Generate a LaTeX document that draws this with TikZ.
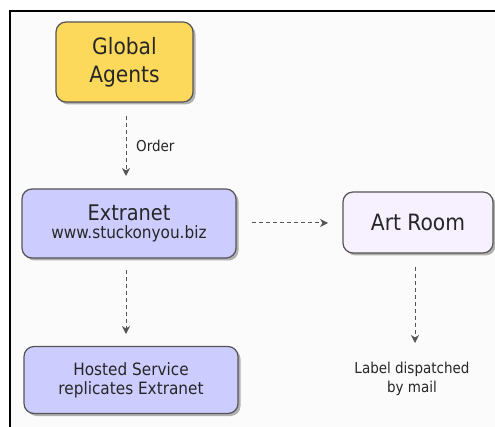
\documentclass[tikz,border=0pt]{standalone}
\usepackage{fontspec}
\setmainfont{DejaVu Sans Condensed}
\usetikzlibrary{arrows.meta,shadows}
\definecolor{agentfill}{HTML}{FCD95B}
\definecolor{netfill}{HTML}{CCCCFF}
\definecolor{artfill}{HTML}{F6F0FF}
\definecolor{edgegray}{HTML}{555555}
\definecolor{linkgray}{HTML}{555555}
\definecolor{paper}{HTML}{FBFBFB}
\tikzset{
  box/.style={draw=edgegray, line width=1.2pt, rounded corners=10pt,
    align=center, inner sep=0pt, text=black!85,
    drop shadow={shadow xshift=2.5pt, shadow yshift=-2.5pt, opacity=0.5, fill=black!60}},
  link/.style={draw=linkgray, line width=1pt, dash pattern=on 4pt off 3pt,
    -{Stealth[length=8pt,width=8pt,inset=2.5pt]}},
  note/.style={font=\fontsize{15}{19}\selectfont, align=center, inner sep=0pt, text=black!85}
}
\begin{document}
\begin{tikzpicture}[x=1pt,y=-1pt]
  \useasboundingbox (0,0) rectangle (495,427);
  % page frame
  \fill[paper] (10,11) rectangle (495,427);
  \draw[line width=2pt, black] (10,427) -- (10,11) -- (495,11);

  % boxes
  \node[box, fill=agentfill, minimum width=137pt, minimum height=80pt,
        font=\fontsize{22.5}{28}\selectfont] (agents) at (124.5,62) {Global\\Agents};
  \node[box, fill=netfill, minimum width=214pt, minimum height=69pt] (extranet) at (129,223.5)
        {{\fontsize{21.5}{22}\selectfont Extranet}\\[4pt]{\fontsize{17}{17}\selectfont www.stuckonyou.biz}};
  \node[box, fill=netfill, minimum width=214pt, minimum height=67pt,
        font=\fontsize{17}{19}\selectfont] (hosted) at (131,380) {Hosted Service\\replicates Extranet};
  \node[box, fill=artfill, minimum width=150pt, minimum height=61pt,
        font=\fontsize{22.5}{24}\selectfont] (art) at (418,222.5) {Art Room};

  % free ends and labels
  \coordinate (orderTop) at (126,116);
  \coordinate (orderEnd) at (126,176);
  \coordinate (hostTop) at (126,270);
  \coordinate (hostEnd) at (126,334);
  \coordinate (artFrom) at (252,223);
  \coordinate (artTo) at (328,223);
  \coordinate (mailTop) at (415,267);
  \coordinate (mailEnd) at (415,343);
  \node[note, anchor=west] (order) at (136,146) {Order};
  \node[note] (mail) at (412,379) {Label dispatched\\by mail};

  % connectors
  \draw[link] (orderTop) -- (orderEnd);
  \draw[link] (hostTop) -- (hostEnd);
  \draw[link] (artFrom) -- (artTo);
  \draw[link] (mailTop) -- (mailEnd);
\end{tikzpicture}
\end{document}
